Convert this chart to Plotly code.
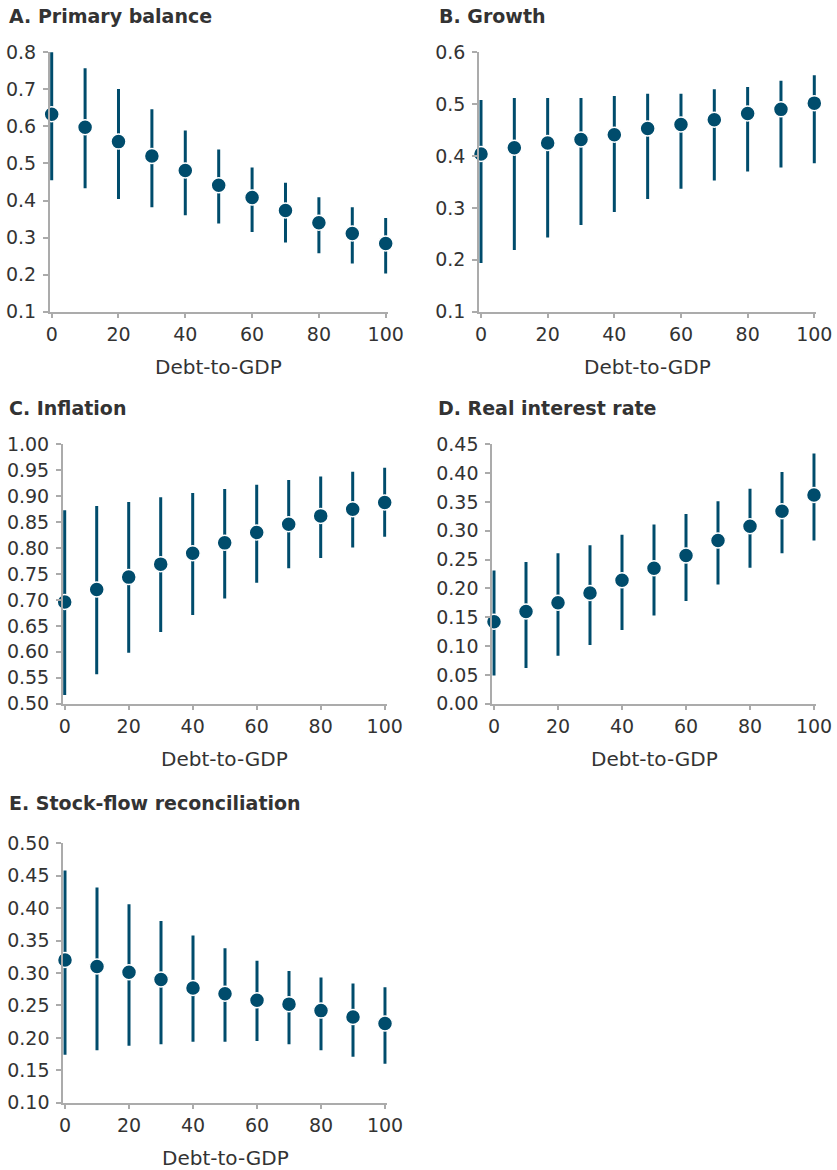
import plotly.graph_objects as go

debt = [0, 10, 20, 30, 40, 50, 60, 70, 80, 90, 100]

pb_mid = [0.633, 0.598, 0.559, 0.520, 0.481, 0.441, 0.408, 0.373, 0.340, 0.311, 0.284]
pb_hi = [0.802, 0.757, 0.701, 0.646, 0.589, 0.538, 0.489, 0.448, 0.409, 0.382, 0.353]
pb_lo = [0.455, 0.433, 0.404, 0.382, 0.360, 0.338, 0.315, 0.287, 0.258, 0.230, 0.203]

gr_mid = [0.404, 0.416, 0.425, 0.432, 0.441, 0.453, 0.461, 0.470, 0.482, 0.490, 0.502]
gr_hi = [0.508, 0.512, 0.512, 0.512, 0.516, 0.520, 0.520, 0.529, 0.533, 0.545, 0.556]
gr_lo = [0.194, 0.219, 0.243, 0.267, 0.292, 0.317, 0.337, 0.353, 0.370, 0.378, 0.386]

inf_mid = [0.696, 0.720, 0.744, 0.769, 0.790, 0.810, 0.830, 0.846, 0.862, 0.875, 0.888]
inf_hi = [0.873, 0.881, 0.889, 0.898, 0.906, 0.914, 0.922, 0.931, 0.938, 0.947, 0.955]
inf_lo = [0.517, 0.557, 0.598, 0.638, 0.671, 0.703, 0.733, 0.761, 0.781, 0.801, 0.822]

rir_mid = [0.142, 0.160, 0.175, 0.192, 0.214, 0.235, 0.257, 0.283, 0.308, 0.334, 0.362]
rir_hi = [0.231, 0.246, 0.261, 0.275, 0.293, 0.311, 0.329, 0.351, 0.373, 0.402, 0.434]
rir_lo = [0.049, 0.062, 0.083, 0.102, 0.128, 0.153, 0.178, 0.207, 0.236, 0.261, 0.283]

sfr_mid = [0.320, 0.310, 0.301, 0.290, 0.277, 0.268, 0.258, 0.252, 0.242, 0.232, 0.222]
sfr_hi = [0.458, 0.432, 0.406, 0.380, 0.358, 0.338, 0.319, 0.303, 0.293, 0.284, 0.278]
sfr_lo = [0.174, 0.181, 0.188, 0.190, 0.194, 0.194, 0.195, 0.190, 0.181, 0.171, 0.160]

titles = ["A. Primary balance", "B. Growth", "C. Inflation", "D. Real interest rate",
          "E. Stock-flow reconciliation"]
x_title = "Debt-to-GDP"

W, H = 837, 1170
COLOR = "#004C6C"
AXIS = "#ababab"
TEXT = "#333333"
FONT = "DejaVu Sans"
PAD = 0.6  # small x padding (data units) so edge error bars are not clipped

# panel pixel boxes: (x0, x1, y_top, y_bottom), yrange, ytick step, tick format
panels = [
    (51.7, 385.7, 52.3, 311.7, [0.1, 0.8], 0.1, ".1f", pb_mid, pb_hi, pb_lo, (7, 16)),
    (481.0, 814.3, 52.3, 311.7, [0.1, 0.6], 0.1, ".1f", gr_mid, gr_hi, gr_lo, (437, 16)),
    (64.7, 384.7, 444.3, 703.7, [0.5, 1.0], 0.05, ".2f", inf_mid, inf_hi, inf_lo, (7, 408)),
    (494.0, 814.0, 444.3, 703.7, [0.0, 0.45], 0.05, ".2f", rir_mid, rir_hi, rir_lo, (436, 408)),
    (65.0, 385.0, 843.3, 1102.7, [0.1, 0.5], 0.05, ".2f", sfr_mid, sfr_hi, sfr_lo, (7, 803)),
]

fig = go.Figure()
annotations = []
for i, (x0, x1, yt, yb, yr, dt, fmt, mid, hi, lo, tpos) in enumerate(panels):
    n = "" if i == 0 else str(i + 1)
    xa, ya = "x" + n, "y" + n
    plus = [h - m for h, m in zip(hi, mid)]
    minus = [m - l for m, l in zip(mid, lo)]
    fig.add_trace(go.Scatter(
        x=debt, y=mid, mode="markers", xaxis=xa, yaxis=ya, cliponaxis=False,
        marker=dict(color=COLOR, size=15, line=dict(color="white", width=1.5)),
        error_y=dict(type="data", symmetric=False, array=plus, arrayminus=minus,
                     color=COLOR, thickness=3, width=0),
        showlegend=False, hoverinfo="x+y"))
    common = dict(showline=True, linecolor=AXIS, linewidth=1.5, ticks="outside",
                  ticklen=5, tickcolor=AXIS, tickwidth=1.5, showgrid=False, zeroline=False,
                  automargin=False,
                  tickfont=dict(family=FONT, size=19, color=TEXT))
    ppu = (x1 - x0) / 100.0
    fig.layout["xaxis" + n] = dict(
        domain=[(x0 - PAD * ppu) / W, (x1 + PAD * ppu) / W], range=[-PAD, 100 + PAD],
        tickvals=[0, 20, 40, 60, 80, 100], anchor=ya, **common)
    fig.layout["yaxis" + n] = dict(
        domain=[1 - yb / H, 1 - yt / H], range=yr, dtick=dt, tick0=yr[0],
        tickformat=fmt, anchor=xa, ticklabelstandoff=3, **common)
    annotations.append(dict(
        text="<b>" + titles[i] + "</b>", x=tpos[0] / W, y=1 - tpos[1] / H,
        xref="paper", yref="paper", xanchor="left", yanchor="middle", showarrow=False,
        font=dict(family=FONT, size=19, color=TEXT)))
    annotations.append(dict(
        text=x_title, x=(x0 + x1) / 2 / W, y=1 - (yb + 55) / H,
        xref="paper", yref="paper", xanchor="center", yanchor="middle", showarrow=False,
        font=dict(family=FONT, size=20, color=TEXT)))

fig.update_layout(width=W, height=H, margin=dict(l=0, r=0, t=0, b=0),
                  paper_bgcolor="white", plot_bgcolor="white",
                  annotations=annotations)
fig.write_html("out.html", config={"displayModeBar": False},
               post_script="document.body.style.margin='0px';")
